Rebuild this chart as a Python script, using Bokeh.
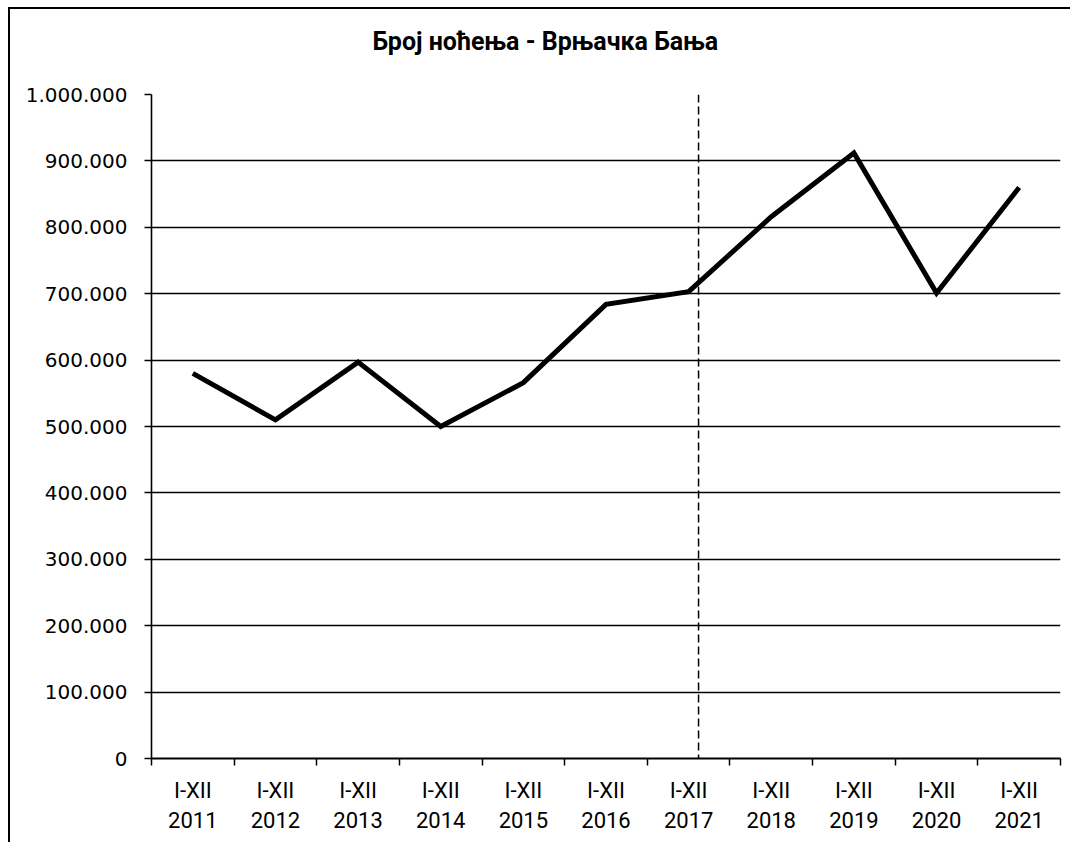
from bokeh.plotting import figure
from bokeh.models import Range1d, FixedTicker, Span, Title, LinearAxis
from bokeh.embed import file_html
from bokeh.resources import INLINE

# ---- data ----
years = ["2011", "2012", "2013", "2014", "2015", "2016", "2017", "2018", "2019", "2020", "2021"]
period = "I-XII"
nights = [580000, 510000, 597000, 500000, 566000, 684000, 703000, 816000, 912000, 701000, 860000]
y_ticks = [0, 100000, 200000, 300000, 400000, 500000, 600000, 700000, 800000, 900000, 1000000]
y_tick_labels = ["0", "100.000", "200.000", "300.000", "400.000", "500.000",
                 "600.000", "700.000", "800.000", "900.000", "1.000.000"]
title_text = "Број ноћења - Врњачка Бања"
marker_year_pos = 6.62  # vertical dashed line position (category units)

n = len(years)
xs = [i + 0.5 for i in range(n)]

p = figure(width=1062, height=835, output_backend="svg", toolbar_location=None,
           x_range=Range1d(0, n), y_range=Range1d(0, 1000000),
           min_border_left=141, min_border_right=12, min_border_top=85, min_border_bottom=86)
p.outline_line_color = None
p.background_fill_color = "white"
p.border_fill_color = "white"
p.styles = {"box-sizing": "border-box", "margin-left": "8px", "margin-top": "7px",
            "border-left": "2px solid black", "border-top": "2px solid black"}

# spacer between frame and title, then the title itself
p.add_layout(Title(text=" ", standoff=36, text_font_size="1px"), "above")
t = Title(text=title_text, align="left", offset=221, standoff=0,
          text_font="Roboto", text_font_size="25px", text_font_style="bold",
          text_color="black")
p.add_layout(t, "above")

# grid
p.xgrid.grid_line_color = None
p.ygrid.ticker = FixedTicker(ticks=y_ticks)
p.ygrid.grid_line_color = "black"
p.ygrid.grid_line_width = 1.6

# y axis
p.yaxis.ticker = FixedTicker(ticks=y_ticks)
p.yaxis.major_label_overrides = {v: s for v, s in zip(y_ticks, y_tick_labels)}
p.yaxis.major_label_text_font = "DejaVu Sans"
p.yaxis.major_label_text_font_size = "20px"
p.yaxis.major_label_text_color = "black"
p.yaxis.major_label_standoff = 17
p.yaxis.major_tick_out = 7
p.yaxis.major_tick_in = 0
p.yaxis.major_tick_line_width = 1.5
p.yaxis.minor_tick_line_color = None
p.yaxis.axis_line_width = 1.6
p.yaxis.axis_line_color = "black"

# x axis (row 1): "I-XII" at category centres, tick marks at boundaries
xa = p.xaxis[0]
xa.ticker = FixedTicker(ticks=xs, minor_ticks=list(range(n + 1)))
xa.major_label_overrides = {x: period for x in xs}
xa.major_label_text_font = "Roboto"
xa.major_label_text_font_size = "22px"
xa.major_label_text_color = "black"
xa.major_label_standoff = 12
xa.major_tick_out = 0
xa.major_tick_in = 0
xa.minor_tick_out = 7
xa.minor_tick_in = 0
xa.minor_tick_line_color = "black"
xa.minor_tick_line_width = 1.5
xa.axis_line_width = 1.8
xa.axis_line_color = "black"

# x axis (row 2): years
xa2 = LinearAxis(ticker=FixedTicker(ticks=xs, minor_ticks=[]))
xa2.major_label_overrides = {x: y for x, y in zip(xs, years)}
xa2.major_label_text_font = "Roboto"
xa2.major_label_text_font_size = "22px"
xa2.major_label_text_color = "black"
xa2.major_label_standoff = 0
xa2.axis_line_color = None
xa2.major_tick_line_color = None
xa2.minor_tick_line_color = None
p.add_layout(xa2, "below")

# dashed vertical line
p.add_layout(Span(location=marker_year_pos, dimension="height", line_color="black",
                  line_width=1.5, line_dash="8 4"))

# series
p.line(xs, nights, line_color="black", line_width=5, line_join="miter")

open("out.html", "w").write(file_html(p, INLINE))
